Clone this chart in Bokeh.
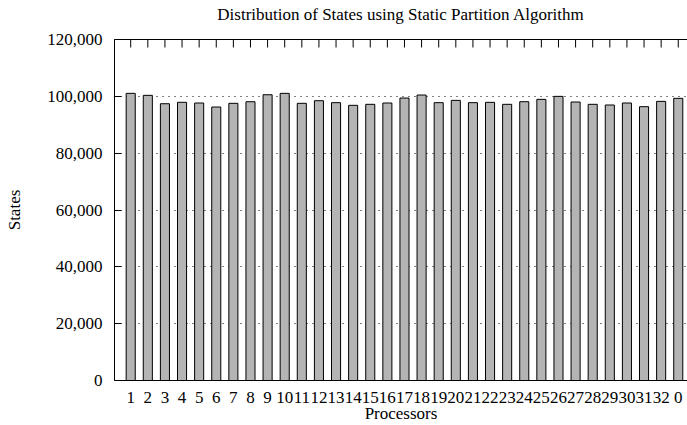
import math
from bokeh.plotting import figure
from bokeh.models import (Range1d, LinearAxis, FixedTicker, NumeralTickFormatter,
                          ColumnDataSource, Grid)
from bokeh.embed import file_html
from bokeh.resources import INLINE

# ---- data ----
processors = ["1", "2", "3", "4", "5", "6", "7", "8", "9", "10", "11", "12", "13",
              "14", "15", "16", "17", "18", "19", "20", "21", "22", "23", "24", "25",
              "26", "27", "28", "29", "30", "31", "32", "0"]
states = [101050, 100350, 97400, 97900, 97650, 96240, 97540, 98100, 100560, 101050,
          97540, 98460, 97770, 96830, 97190, 97650, 99400, 100460, 97770, 98580,
          97770, 97890, 97190, 98110, 98930, 99990, 98000, 97190, 96950, 97650,
          96360, 98230, 99290]
y_ticks = [0, 20000, 40000, 60000, 80000, 100000, 120000]
title_text = "Distribution of States using Static Partition Algorithm"

FONT = "Liberation Serif"
FS = "17px"

pos = list(range(len(processors)))
src = ColumnDataSource(dict(x=pos, top=states, label=processors))
tick_src = ColumnDataSource(dict(x=pos, y=[y_ticks[-1]] * len(pos)))

p = figure(width=687, height=425, output_backend="svg", toolbar_location=None,
           x_range=Range1d(-0.947, 32.54), y_range=Range1d(y_ticks[0], y_ticks[-1]),
           x_axis_type=None, y_axis_type=None,
           min_border_left=114, min_border_right=0, min_border_top=39,
           min_border_bottom=45)
p.outline_line_color = None
p.background_fill_color = "white"

p.vbar(x="x", top="top", bottom=0, width=0.53, source=src,
       fill_color="#b4b4b4", line_color="black", line_width=1)

# inward tick marks along the top border (outer half clipped by the frame)
p.scatter(x="x", y="y", source=tick_src, marker="dash", size=16,
          angle=math.pi / 2, line_color="black", line_width=1)

# left axis
ya = LinearAxis(ticker=FixedTicker(ticks=y_ticks),
                formatter=NumeralTickFormatter(format="0,0"),
                axis_label="States")
ya.major_tick_in = 7
ya.major_tick_out = 0
ya.minor_tick_line_color = None
ya.major_label_text_font = FONT
ya.major_label_text_font_size = FS
ya.major_label_text_color = "black"
ya.major_label_standoff = 12
ya.axis_label_text_font = FONT
ya.axis_label_text_font_size = FS
ya.axis_label_text_font_style = "normal"
ya.axis_label_text_color = "black"
ya.axis_label_standoff = 20
ya.axis_line_color = "black"
ya.major_tick_line_color = "black"
p.add_layout(ya, "left")

# bottom axis
xa = LinearAxis(ticker=FixedTicker(ticks=pos), axis_label="Processors")
xa.major_label_overrides = {i: lab for i, lab in zip(pos, processors)}
xa.major_tick_in = 0
xa.major_tick_out = 0
xa.minor_tick_line_color = None
xa.major_label_text_font = FONT
xa.major_label_text_font_size = FS
xa.major_label_text_color = "black"
xa.major_label_standoff = 11
xa.axis_label_text_font = FONT
xa.axis_label_text_font_size = FS
xa.axis_label_text_font_style = "normal"
xa.axis_label_text_color = "black"
xa.axis_label_standoff = -2
xa.axis_line_color = "black"
p.add_layout(xa, "below")

# top border line carrying the chart title
ta = LinearAxis(ticker=FixedTicker(ticks=[]), axis_label=title_text)
ta.major_tick_in = 0
ta.major_tick_out = 0
ta.minor_tick_line_color = None
ta.major_label_standoff = 0
ta.axis_line_color = "black"
ta.axis_label_text_font = FONT
ta.axis_label_text_font_size = FS
ta.axis_label_text_font_style = "normal"
ta.axis_label_text_color = "black"
ta.axis_label_standoff = 16
p.add_layout(ta, "above")

# horizontal dotted grid
g = Grid(dimension=1, ticker=FixedTicker(ticks=y_ticks))
g.grid_line_color = "black"
g.grid_line_dash = "1 5"
g.grid_line_width = 1
p.add_layout(g)

open("out.html", "w").write(file_html(p, INLINE))
